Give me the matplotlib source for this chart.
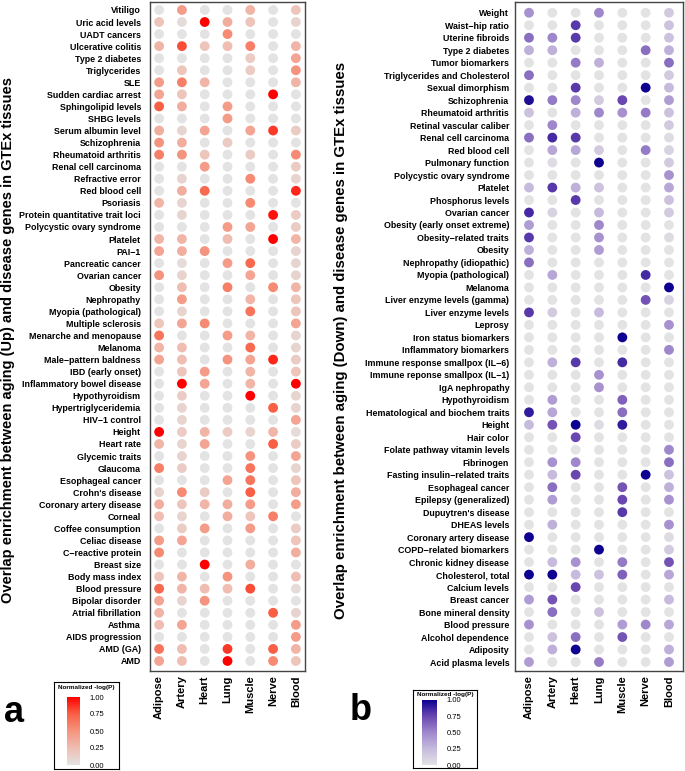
import numpy as np
import matplotlib
matplotlib.use("Agg")
import matplotlib.pyplot as plt
from matplotlib.colors import LinearSegmentedColormap

plt.rcParams['font.family'] = ['Liberation Sans', 'DejaVu Sans']

tissues = ["Adipose", "Artery", "Heart", "Lung", "Muscle", "Nerve", "Blood"]

# panel a: aging (Up) vs disease genes, values per tissue in the order above
up_traits = ["Vitiligo", "Uric acid levels", "UADT cancers", "Ulcerative colitis", "Type 2 diabetes",
             "Triglycerides", "SLE", "Sudden cardiac arrest", "Sphingolipid levels", "SHBG levels",
             "Serum albumin level", "Schizophrenia", "Rheumatoid arthritis", "Renal cell carcinoma",
             "Refractive error", "Red blood cell", "Psoriasis", "Protein quantitative trait loci",
             "Polycystic ovary syndrome", "Platelet", "PAI\u22121", "Pancreatic cancer", "Ovarian cancer",
             "Obesity", "Nephropathy", "Myopia (pathological)", "Multiple sclerosis",
             "Menarche and menopause", "Melanoma", "Male\u2212pattern baldness", "IBD (early onset)",
             "Inflammatory bowel disease", "Hypothyroidism", "Hypertriglyceridemia", "HIV\u22121 control",
             "Height", "Heart rate", "Glycemic traits", "Glaucoma", "Esophageal cancer", "Crohn's disease",
             "Coronary artery disease", "Corneal", "Coffee consumption", "Celiac disease",
             "C\u2212reactive protein", "Breast size", "Body mass index", "Blood pressure",
             "Bipolar disorder", "Atrial fibrillation", "Asthma", "AIDS progression", "AMD (GA)", "AMD"]
up_vals = [
    [0, 0.45, 0, 0, 0.3, 0, 0.2],
    [0.2, 0.05, 1.0, 0.35, 0.2, 0, 0.1],
    [0, 0, 0, 0.55, 0, 0, 0],
    [0.3, 0.8, 0.2, 0.25, 0.6, 0, 0.3],
    [0, 0, 0, 0, 0.15, 0, 0.4],
    [0, 0.2, 0, 0, 0.15, 0, 0.5],
    [0.45, 0.6, 0.3, 0, 0, 0, 0.3],
    [0.4, 0.2, 0, 0, 0, 1.0, 0],
    [0.75, 0.35, 0, 0.45, 0, 0, 0],
    [0, 0, 0, 0.45, 0, 0, 0],
    [0.35, 0.1, 0.4, 0, 0.4, 0.85, 0.15],
    [0.5, 0.35, 0, 0.15, 0, 0, 0],
    [0.6, 0.5, 0.2, 0, 0.15, 0, 0.55],
    [0, 0, 0.45, 0, 0, 0, 0.15],
    [0, 0.1, 0, 0, 0.55, 0, 0.1],
    [0, 0.35, 0.7, 0, 0, 0, 0.9],
    [0.3, 0.1, 0, 0, 0.55, 0, 0],
    [0, 0.1, 0, 0, 0, 0.95, 0.15],
    [0, 0, 0, 0.45, 0.4, 0, 0.15],
    [0.3, 0.3, 0, 0.25, 0, 1.0, 0.3],
    [0.4, 0.35, 0.5, 0, 0, 0, 0.1],
    [0, 0.05, 0, 0.45, 0.7, 0, 0.1],
    [0.5, 0.1, 0, 0, 0.4, 0, 0.1],
    [0, 0.25, 0, 0.6, 0, 0.55, 0.3],
    [0, 0.45, 0, 0, 0.3, 0, 0.2],
    [0, 0.1, 0, 0, 0.65, 0, 0.2],
    [0.2, 0.4, 0.55, 0, 0, 0, 0.4],
    [0.65, 0, 0, 0.45, 0.3, 0, 0.1],
    [0.3, 0.25, 0, 0, 0.7, 0, 0.1],
    [0.4, 0.25, 0, 0.5, 0.4, 0.9, 0.15],
    [0, 0.2, 0.45, 0, 0.3, 0, 0.2],
    [0, 1.0, 0.4, 0, 0.3, 0, 1.0],
    [0, 0.15, 0, 0, 1.0, 0, 0.1],
    [0, 0.1, 0, 0, 0, 0.75, 0.1],
    [0, 0.1, 0, 0, 0, 0, 0.4],
    [1.0, 0.15, 0.3, 0.15, 0.1, 0.3, 0.05],
    [0.3, 0.1, 0.4, 0, 0, 0.75, 0.15],
    [0, 0.1, 0, 0, 0.5, 0, 0.4],
    [0.6, 0.15, 0, 0, 0.65, 0, 0.1],
    [0, 0, 0, 0.4, 0.65, 0, 0.2],
    [0.1, 0.55, 0.15, 0, 0.75, 0, 0.35],
    [0.35, 0.2, 0.3, 0.35, 0.45, 0, 0.45],
    [0.25, 0.1, 0, 0.35, 0.2, 0.6, 0],
    [0, 0.15, 0.45, 0, 0.45, 0, 0.15],
    [0.45, 0.4, 0, 0, 0, 0, 0.2],
    [0.55, 0, 0, 0, 0, 0, 0.35],
    [0, 0, 1.0, 0, 0.35, 0, 0],
    [0.2, 0.3, 0, 0.5, 0, 0, 0.25],
    [0.7, 0.3, 0.25, 0.25, 0.8, 0, 0.05],
    [0.4, 0.1, 0.5, 0, 0, 0, 0],
    [0.3, 0, 0, 0, 0, 0.75, 0.1],
    [0.25, 0.4, 0, 0, 0, 0, 0.45],
    [0, 0, 0, 0, 0, 0, 0.45],
    [0.65, 0.25, 0, 0.85, 0, 0.75, 0.3],
    [0.4, 0.25, 0, 1.0, 0, 0.55, 0.2],
]

# panel b: aging (Down) vs disease genes
down_traits = ["Weight", "Waist\u2212hip ratio", "Uterine fibroids", "Type 2 diabetes", "Tumor biomarkers",
               "Triglycerides and Cholesterol", "Sexual dimorphism", "Schizophrenia", "Rheumatoid arthritis",
               "Retinal vascular caliber", "Renal cell carcinoma", "Red blood cell", "Pulmonary function",
               "Polycystic ovary syndrome", "Platelet", "Phosphorus levels", "Ovarian cancer",
               "Obesity (early onset extreme)", "Obesity\u2212related traits", "Obesity",
               "Nephropathy (idiopathic)", "Myopia (pathological)", "Melanoma", "Liver enzyme levels (gamma)",
               "Liver enzyme levels", "Leprosy", "Iron status biomarkers", "Inflammatory biomarkers",
               "Immune response smallpox (IL\u22126)", "Immune reponse smallpox (IL\u22121)", "IgA nephropathy",
               "Hypothyroidism", "Hematological and biochem traits", "Height", "Hair color",
               "Folate pathway vitamin levels", "Fibrinogen", "Fasting insulin\u2212related traits",
               "Esophageal cancer", "Epilepsy (generalized)", "Dupuytren's disease", "DHEAS levels",
               "Coronary artery disease", "COPD\u2212related biomarkers", "Chronic kidney disease",
               "Cholesterol, total", "Calcium levels", "Breast cancer", "Bone mineral density",
               "Blood pressure", "Alcohol dependence", "Adiposity", "Acid plasma levels"]
down_vals = [
    [0.45, 0, 0, 0.5, 0, 0, 0.15],
    [0, 0, 0.8, 0, 0, 0, 0.2],
    [0.6, 0.5, 0.8, 0, 0, 0, 0.2],
    [0.3, 0.3, 0, 0, 0, 0.6, 0.3],
    [0, 0, 0.55, 0.3, 0, 0, 0.6],
    [0.6, 0, 0, 0, 0, 0, 0.15],
    [0, 0, 0.8, 0, 0, 1.0, 0.25],
    [0.95, 0.55, 0.5, 0.15, 0.75, 0, 0.4],
    [0.2, 0, 0.3, 0.5, 0.45, 0.55, 0.2],
    [0, 0.5, 0, 0, 0, 0, 0.15],
    [0.6, 0.85, 0.8, 0, 0, 0, 0.05],
    [0, 0.35, 0.35, 0.15, 0, 0.55, 0.1],
    [0, 0.05, 0, 1.0, 0, 0, 0.15],
    [0, 0, 0, 0, 0, 0, 0.45],
    [0.25, 0.8, 0.3, 0.2, 0, 0, 0.35],
    [0, 0, 0.8, 0, 0, 0, 0.2],
    [0.85, 0.1, 0, 0.25, 0, 0, 0.15],
    [0.4, 0, 0, 0.5, 0, 0, 0],
    [0.8, 0, 0, 0.45, 0, 0, 0.05],
    [0.3, 0, 0, 0.4, 0, 0, 0],
    [0.6, 0, 0, 0, 0, 0, 0],
    [0, 0.35, 0, 0, 0, 0.85, 0],
    [0, 0, 0, 0, 0, 0, 1.0],
    [0, 0, 0, 0, 0, 0.7, 0.1],
    [0.8, 0.15, 0, 0.25, 0, 0, 0],
    [0, 0, 0, 0, 0, 0, 0.45],
    [0, 0, 0, 0, 1.0, 0, 0],
    [0, 0, 0, 0, 0, 0, 0.5],
    [0, 0.3, 0.8, 0, 0.85, 0, 0],
    [0, 0, 0, 0.45, 0, 0, 0],
    [0, 0, 0, 0.45, 0, 0, 0],
    [0, 0.4, 0, 0, 0.65, 0, 0],
    [0.9, 0.35, 0, 0, 0.6, 0, 0],
    [0.25, 0.7, 1.0, 0.05, 0.9, 0, 0],
    [0, 0, 0.75, 0, 0, 0, 0],
    [0, 0, 0, 0, 0, 0, 0.5],
    [0, 0.45, 0.5, 0, 0, 0, 0.6],
    [0, 0.25, 0.75, 0, 0, 1.0, 0.2],
    [0, 0.6, 0, 0, 0.7, 0, 0.3],
    [0, 0.4, 0, 0, 0.75, 0, 0.45],
    [0, 0, 0, 0, 0.8, 0, 0],
    [0, 0.3, 0, 0, 0, 0, 0.45],
    [1.0, 0, 0, 0, 0, 0, 0.05],
    [0, 0, 0, 1.0, 0, 0, 0.15],
    [0, 0.25, 0.45, 0, 0.55, 0, 0.7],
    [1.0, 1.0, 0.25, 0.2, 0.65, 0, 0.35],
    [0, 0, 0.75, 0, 0, 0, 0],
    [0.4, 0.7, 0, 0, 0, 0, 0.25],
    [0, 0.6, 0, 0.2, 0, 0, 0],
    [0.45, 0, 0, 0, 0.4, 0.5, 0.35],
    [0, 0.2, 0.6, 0, 0.7, 0, 0],
    [0, 0.3, 1.0, 0, 0, 0, 0.3],
    [0.4, 0, 0, 0.55, 0, 0, 0.4],
]

reds = LinearSegmentedColormap.from_list(
    "reds", [(0, "#E3E3E3"), (0.25, "#EFBDB1"), (0.5, "#F5947E"), (0.75, "#F96045"), (1, "#FF0000")])
purples = LinearSegmentedColormap.from_list(
    "purples", [(0, "#E3E3E3"), (0.25, "#C6BADD"), (0.5, "#9F88CB"), (0.75, "#6A47B0"), (1, "#0E0090")])

W, H = 685, 771
fig = plt.figure(figsize=(W / 100, H / 100), dpi=100)


def px(x0, y0, x1, y1):
    # pixel box -> figure fraction rect
    return [x0 / W, 1 - y1 / H, (x1 - x0) / W, (y1 - y0) / H]


def dotplot(rect, traits, vals, cmap, xpad, ytop, ybot, ypad):
    ax = fig.add_axes(rect)
    v = np.array(vals)
    n = len(traits)
    xx, yy = np.meshgrid(np.arange(len(tissues)), np.arange(n))
    ax.scatter(xx.ravel(), yy.ravel(), c=v.ravel(), cmap=cmap, vmin=0, vmax=1, s=50, linewidths=0)
    ax.set_xlim(-xpad, len(tissues) - 1 + xpad)
    ax.set_ylim(n - 1 + ybot, -ytop)
    ax.set_yticks(range(n))
    ax.set_yticklabels(traits, fontsize=6.4, fontweight='bold')
    ax.set_xticks(range(len(tissues)))
    ax.set_xticklabels(tissues, rotation=90, fontsize=8, fontweight='bold')
    ax.tick_params(axis='x', length=0, pad=3)
    ax.tick_params(axis='y', length=0, pad=ypad)
    for sp in ax.spines.values():
        sp.set_color('#444444')
        sp.set_linewidth(1.0)
    return ax


dotplot(px(150, 2, 305, 671), up_traits, up_vals, reds, 0.4, 0.66, 0.83, 6.5)
dotplot(px(515, 2, 683, 671), down_traits, down_vals, purples, 0.6, 0.86, 0.72, 4.2)

fig.text(8 / W, 1 - 340 / H, "Overlap enrichment between aging (Up) and disease genes in GTEx tissues",
         rotation=90, ha='center', va='center', fontsize=10.5, fontweight='bold')
fig.text(341 / W, 1 - 340 / H, "Overlap enrichment between aging (Down) and disease genes in GTEx tissues",
         rotation=90, ha='center', va='center', fontsize=10.8, fontweight='bold')

fig.text(14 / W, 1 - 713 / H, "a", fontsize=26, fontweight='bold', ha='center', va='center')
fig.text(361 / W, 1 - 710 / H, "b", fontsize=26, fontweight='bold', ha='center', va='center')


def legend_box(box, bar, cmap):
    frame = fig.add_axes(px(*box))
    frame.set_xticks([])
    frame.set_yticks([])
    for sp in frame.spines.values():
        sp.set_linewidth(0.8)
    frame.text(0.5, 0.97, "Normalized -log(P)", transform=frame.transAxes, ha='center', va='top',
               fontsize=4.6, fontweight='bold')
    cax = fig.add_axes(px(*bar))
    sm = plt.cm.ScalarMappable(cmap=cmap, norm=plt.Normalize(0, 1))
    cb = fig.colorbar(sm, cax=cax, ticks=[0, 0.25, 0.5, 0.75, 1.0], format='%.2f')
    cb.outline.set_visible(False)
    cb.ax.tick_params(labelsize=5.5, length=2, color='white', pad=5)


legend_box((54, 682, 119, 769), (67, 697, 80, 765), reds)
legend_box((413, 690, 477, 768), (422, 700, 437, 765), purples)

fig.savefig("out.png", dpi=100)
